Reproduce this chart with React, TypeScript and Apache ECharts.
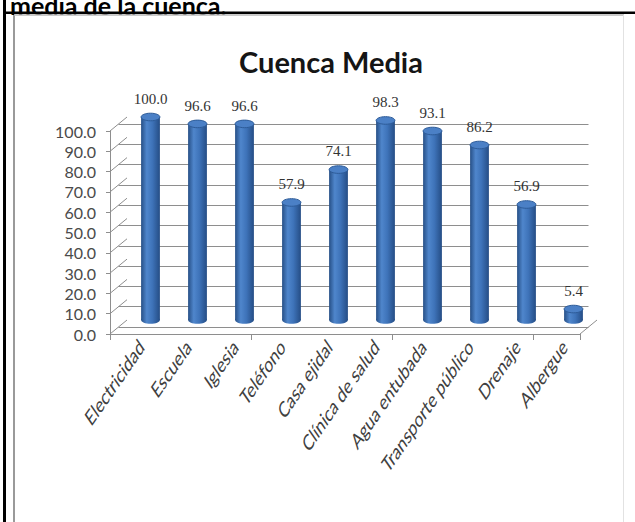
import React, { useEffect, useRef } from "react";
import * as echarts from "echarts";

const pageHeading = "media de la cuenca.";
const chartTitle = "Cuenca Media";
const categories = [
  "Electricidad",
  "Escuela",
  "Iglesia",
  "Teléfono",
  "Casa ejidal",
  "Clínica de salud",
  "Agua entubada",
  "Transporte público",
  "Drenaje",
  "Albergue",
];
const values = [100.0, 96.6, 96.6, 57.9, 74.1, 98.3, 93.1, 86.2, 56.9, 5.4];
const yTicks = [0, 10, 20, 30, 40, 50, 60, 70, 80, 90, 100];
const yMin = 0;
const yMax = 100;
const yStep = 10;

const GRID_W = 470;
const GRID_H = 203;
const FRONT_LEFT = 110;
const FRONT_TOP = 131;
const DEPTH_X = 17;
const DEPTH_Y = 14;
const GRID_COLOR = "#8e8e8e";
const SANS = "Lato, 'Open Sans', sans-serif";
const STRETCH = 1.45;

export default function App() {
  const ref = useRef<HTMLDivElement>(null);

  useEffect(() => {
    if (!ref.current) return;
    const chart = echarts.init(ref.current, null, { renderer: "svg" });

    const grids = [0, 0.5, 1].map((f) => ({
      left: FRONT_LEFT + DEPTH_X * f,
      top: FRONT_TOP - DEPTH_Y * f,
      width: GRID_W,
      height: GRID_H,
      containLabel: false,
    }));

    const valueAxis = (gridIndex: number, extra: any) => ({
      type: "value",
      gridIndex,
      min: yMin,
      max: yMax,
      interval: yStep,
      ...extra,
    });

    const option: any = {
      animation: false,
      backgroundColor: "#ffffff",
      title: {
        text: chartTitle,
        left: 326,
        top: 42,
        textAlign: "center",
        textStyle: {
          fontFamily: SANS,
          fontSize: 29,
          fontWeight: "bold",
          color: "#151515",
        },
      },
      graphic: [
        {
          type: "text",
          left: 10,
          top: -8,
          z: 10,
          style: {
            text: pageHeading,
            font: "bold 25px " + SANS,
            fill: "#000000",
          },
        },
        { type: "rect", shape: { x: 3, y: 0, width: 3, height: 522 }, style: { fill: "#000" }, z: 11 },
        { type: "rect", shape: { x: 3, y: 11.5, width: 632, height: 2.5 }, style: { fill: "#000" }, z: 11 },
        { type: "line", shape: { x1: 14, y1: 15, x2: 14, y2: 522 }, style: { stroke: "#9a9a9a", lineWidth: 2 }, z: 10 },
        { type: "line", shape: { x1: 14, y1: 15, x2: 624, y2: 15 }, style: { stroke: "#b8b8b8", lineWidth: 1.5 }, z: 10 },
        { type: "line", shape: { x1: 623.5, y1: 15, x2: 623.5, y2: 522 }, style: { stroke: "#e2e2e2", lineWidth: 1 }, z: 10 },
      ],
      grid: grids,
      xAxis: [
        {
          type: "category",
          gridIndex: 0,
          data: categories,
          boundaryGap: true,
          axisLine: { show: true, lineStyle: { color: GRID_COLOR, width: 1 } },
          axisTick: { show: true, length: 6, lineStyle: { color: GRID_COLOR } },
          axisLabel: { show: false },
          splitLine: { show: false },
        },
        {
          type: "category",
          gridIndex: 1,
          data: categories,
          show: false,
        },
        {
          type: "category",
          gridIndex: 2,
          data: categories,
          boundaryGap: true,
          axisLine: { show: false },
          axisTick: { show: false },
          axisLabel: { show: false },
          splitLine: { show: false },
        },
      ],
      yAxis: [
        valueAxis(0, {
          axisLine: { show: true, lineStyle: { color: GRID_COLOR, width: 1 } },
          axisTick: { show: true, length: 4, lineStyle: { color: GRID_COLOR } },
          splitLine: { show: false },
          axisLabel: {
            show: true,
            margin: 14,
            fontFamily: SANS,
            fontSize: 16,
            color: "#4a4a4a",
            formatter: (v: number) => v.toFixed(1),
          },
        }),
        valueAxis(1, {
          axisLine: { show: false },
          axisTick: { show: false },
          axisLabel: { show: false },
          splitLine: { show: true, lineStyle: { color: GRID_COLOR, width: 1 } },
        }),
        valueAxis(2, {
          show: false,
          splitLine: { show: false },
        }),
      ],
      series: [
        {
          type: "custom",
          name: "walls",
          xAxisIndex: 0,
          yAxisIndex: 0,
          clip: false,
          silent: true,
          data: yTicks.map((v) => [0, v]),
          renderItem: (params: any, api: any) => {
            const v = api.value(1);
            const y = api.coord([0, v])[1];
            const cs = params.coordSys;
            const children: any[] = [
              {
                type: "line",
                shape: { x1: cs.x, y1: y, x2: cs.x + DEPTH_X, y2: y - DEPTH_Y },
                style: { stroke: GRID_COLOR, lineWidth: 1 },
              },
            ];
            if (v === yMin) {
              const xr = cs.x + cs.width;
              children.push({
                type: "line",
                shape: { x1: xr, y1: y, x2: xr + DEPTH_X, y2: y - DEPTH_Y },
                style: { stroke: GRID_COLOR, lineWidth: 1 },
              });
            }
            return { type: "group", children };
          },
        },
        {
          type: "custom",
          name: "categoryLabels",
          xAxisIndex: 2,
          yAxisIndex: 2,
          clip: false,
          silent: true,
          data: categories.map((c, i) => [i, 0]),
          renderItem: (params: any, api: any) => {
            const idx = api.value(0);
            const p = api.coord([idx, 0]);
            return {
              type: "group",
              x: p[0] - 9,
              y: p[1] + 23,
              scaleY: STRETCH,
              children: [
                {
                  type: "text",
                  rotation: Math.PI / 4,
                  style: {
                    text: categories[idx],
                    align: "right",
                    verticalAlign: "middle",
                    font: "15px " + SANS,
                    fill: "#404040",
                  },
                },
              ],
            };
          },
        },
        {
          type: "custom",
          name: "Cuenca Media",
          xAxisIndex: 2,
          yAxisIndex: 2,
          clip: false,
          data: values.map((v, i) => [i, v]),
          renderItem: (params: any, api: any) => {
            const idx = api.value(0);
            const v = api.value(1);
            const top = api.coord([idx, v]);
            const base = api.coord([idx, 0]);
            const w = api.size([1, 0])[0] * 0.4;
            const cx = top[0];
            const ry = 3.8;
            const grad = () =>
              new echarts.graphic.LinearGradient(0, 0, 1, 0, [
                { offset: 0, color: "#264f86" },
                { offset: 0.3, color: "#4f86cc" },
                { offset: 0.6, color: "#3e73b9" },
                { offset: 1, color: "#254d85" },
              ]);
            return {
              type: "group",
              children: [
                {
                  type: "ellipse",
                  shape: { cx, cy: base[1], rx: w / 2, ry },
                  style: { fill: grad() },
                },
                {
                  type: "rect",
                  shape: { x: cx - w / 2, y: top[1], width: w, height: base[1] - top[1] },
                  style: { fill: grad() },
                },
                {
                  type: "ellipse",
                  shape: { cx, cy: top[1], rx: w / 2, ry },
                  style: { fill: "#4b80c6", stroke: "#2d5b98", lineWidth: 1 },
                },
                {
                  type: "text",
                  x: cx,
                  y: top[1] - ry - 7,
                  style: {
                    text: v.toFixed(1),
                    align: "center",
                    verticalAlign: "bottom",
                    font: "15px 'Liberation Serif', 'DejaVu Serif', serif",
                    fill: "#333333",
                  },
                },
              ],
            };
          },
        },
      ],
    };

    chart.setOption(option);
    return () => chart.dispose();
  }, []);

  return (
    <div
      ref={ref}
      style={{ position: "fixed", left: 0, top: 0, width: 635, height: 522, background: "#fff" }}
    />
  );
}
